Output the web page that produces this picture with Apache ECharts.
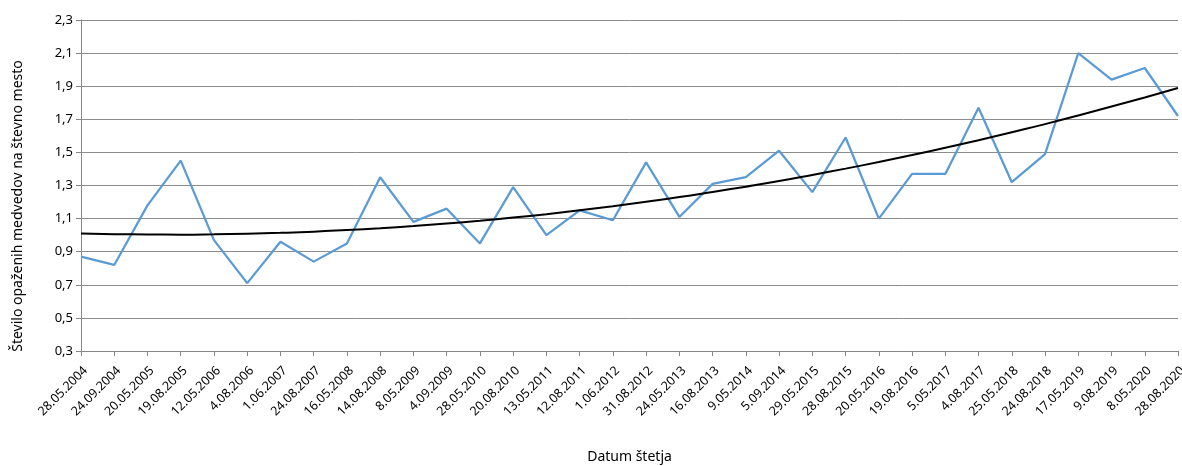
<!DOCTYPE html>
<html>
<head>
<meta charset="utf-8">
<script src="https://cdn.jsdelivr.net/npm/echarts@6/dist/echarts.min.js"></script>
<style>html,body{margin:0;padding:0;background:#fff}#c{width:1182px;height:466px}</style>
</head>
<body>
<div id="c"></div>
<script>
const categories = ["28.05.2004","24.09.2004","20.05.2005","19.08.2005","12.05.2006","4.08.2006","1.06.2007","24.08.2007","16.05.2008","14.08.2008","8.05.2009","4.09.2009","28.05.2010","20.08.2010","13.05.2011","12.08.2011","1.06.2012","31.08.2012","24.05.2013","16.08.2013","9.05.2014","5.09.2014","29.05.2015","28.08.2015","20.05.2016","19.08.2016","5.05.2017","4.08.2017","25.05.2018","24.08.2018","17.05.2019","9.08.2019","8.05.2020","28.08.2020"];
const observed = [0.87,0.82,1.18,1.45,0.97,0.71,0.96,0.84,0.95,1.35,1.08,1.16,0.95,1.29,1.00,1.15,1.09,1.44,1.11,1.31,1.35,1.51,1.26,1.59,1.10,1.37,1.37,1.77,1.32,1.49,2.10,1.94,2.01,1.72];
const trend = [1.010,1.006,1.004,1.003,1.005,1.009,1.014,1.021,1.031,1.042,1.055,1.070,1.087,1.106,1.127,1.150,1.175,1.202,1.230,1.261,1.293,1.327,1.364,1.402,1.442,1.484,1.528,1.574,1.622,1.671,1.723,1.777,1.832,1.889];
const yTitle = "Število opaženih medvedov na števno mesto";
const xTitle = "Datum štetja";

const FONT = "Noto Sans";
const chart = echarts.init(document.getElementById('c'), null, {renderer:'canvas'});
chart.setOption({
  animation:false,
  backgroundColor:'#fff',
  grid:{left:81,right:4,top:20,bottom:115,containLabel:false,outerBoundsMode:'none'},
  graphic:[{
    type:'text', x:18, y:206, rotation:Math.PI/2,
    style:{text:yTitle, fontFamily:FONT, fontSize:14, fill:'#000', align:'center', verticalAlign:'middle'}
  }],
  xAxis:{
    type:'category', data:categories, boundaryGap:false,
    name:xTitle, nameLocation:'middle', nameGap:99,
    nameTextStyle:{fontFamily:FONT,fontSize:14,color:'#000'},
    axisLine:{lineStyle:{color:'#868686',width:1}},
    axisTick:{show:true,alignWithLabel:true,length:5,lineStyle:{color:'#868686'}},
    axisLabel:{rotate:45,interval:0,fontFamily:FONT,fontSize:12.5,color:'#000',margin:13,verticalAlign:'top'},
    splitLine:{show:false}
  },
  yAxis:{
    type:'value', min:0.3, max:2.3, interval:0.2,
    axisLine:{show:true,lineStyle:{color:'#868686',width:1}},
    axisTick:{show:true,length:5,lineStyle:{color:'#868686'}},
    axisLabel:{fontFamily:FONT,fontSize:13,color:'#000',margin:8,
      formatter:v=>v.toFixed(1).replace('.',',')},
    splitLine:{show:true,lineStyle:{color:'#8c8c8c',width:1}}
  },
  series:[
    {type:'line',data:observed,symbol:'none',lineStyle:{color:'#5b9bd5',width:2.25},z:3},
    {type:'line',data:trend,symbol:'none',smooth:true,lineStyle:{color:'#000',width:2},z:4}
  ]
});
</script>
</body>
</html>
